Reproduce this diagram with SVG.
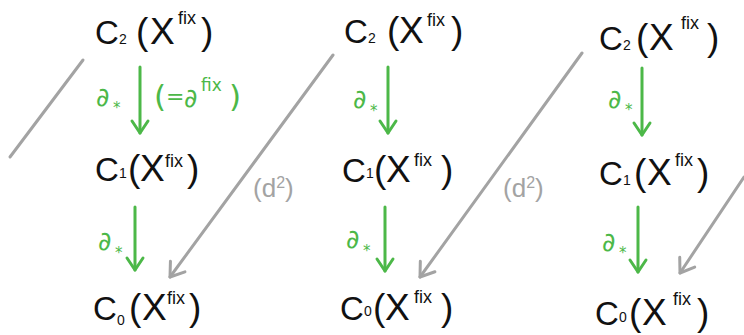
<svg xmlns="http://www.w3.org/2000/svg" width="744" height="335" viewBox="0 0 744 335">
<style>
.n{font-family:"Liberation Sans","DejaVu Sans",sans-serif;fill:#111;}
.b{font-size:37px;}
.c{font-size:33px;}
.s{font-size:14px;}
.f{font-size:18px;}
.g{font-family:"DejaVu Sans","Liberation Sans",sans-serif;fill:#4cb848;}
.gd{font-size:26px;}
.gs{font-size:15px;}
.gr{font-family:"Liberation Sans","DejaVu Sans",sans-serif;fill:#a3a3a3;font-size:26px;}
.ga{stroke:#4cb848;stroke-width:3;fill:none;stroke-linecap:round;}
.gy{stroke:#a3a3a3;stroke-width:3;fill:none;stroke-linecap:round;}
</style>
<defs>
<marker id="hg" markerUnits="userSpaceOnUse" markerWidth="20" markerHeight="20" refX="0" refY="0" orient="auto" overflow="visible">
<path d="M-12,-8 L0,0 L-12,8" fill="none" stroke="#4cb848" stroke-width="3" stroke-linecap="round" stroke-linejoin="round"/>
</marker>
<marker id="hy" markerUnits="userSpaceOnUse" markerWidth="20" markerHeight="20" refX="0" refY="0" orient="auto" overflow="visible">
<path d="M-13,-9 L0,0 L-13,9" fill="none" stroke="#a3a3a3" stroke-width="3" stroke-linecap="round" stroke-linejoin="round"/>
</marker>
</defs>
<g id="connectors">
<line class="ga" x1="140" y1="67" x2="140" y2="133" marker-end="url(#hg)"/>
<line class="ga" x1="135" y1="207" x2="135" y2="270" marker-end="url(#hg)"/>
<line class="ga" x1="388" y1="67" x2="388" y2="133" marker-end="url(#hg)"/>
<line class="ga" x1="385" y1="207" x2="385" y2="271" marker-end="url(#hg)"/>
<line class="ga" x1="642" y1="68" x2="642" y2="135" marker-end="url(#hg)"/>
<line class="ga" x1="638" y1="207" x2="638" y2="272" marker-end="url(#hg)"/>
<line class="gy" x1="83" y1="60" x2="10" y2="157"/>
<line class="gy" x1="333" y1="55" x2="170" y2="277" marker-end="url(#hy)"/>
<line class="gy" x1="582" y1="53" x2="420" y2="277" marker-end="url(#hy)"/>
<line class="gy" x1="744" y1="177" x2="680" y2="273" marker-end="url(#hy)"/>
<text class="g gd" x="96" y="106">∂<tspan class="gs" x="113" y="113">*</tspan></text>
<text class="g" x="154" y="107"><tspan style="font-size:31px">(</tspan><tspan x="166" y="104" style="font-size:22px">=</tspan><tspan x="184" y="107" style="font-size:26px">∂</tspan><tspan x="201" y="91" style="font-size:17px">fix</tspan><tspan x="229" y="107" style="font-size:31px">)</tspan></text>
<text class="g gd" x="98" y="250">∂<tspan class="gs" x="115" y="258">*</tspan></text>
<text class="g gd" x="353" y="108">∂<tspan class="gs" x="370" y="116">*</tspan></text>
<text class="g gd" x="346" y="248">∂<tspan class="gs" x="363" y="256">*</tspan></text>
<text class="g gd" x="608" y="108">∂<tspan class="gs" x="625" y="115">*</tspan></text>
<text class="g gd" x="602" y="251">∂<tspan class="gs" x="619" y="258">*</tspan></text>
<text class="gr" x="253" y="197">(d<tspan style="font-size:16px" dy="-9">2</tspan><tspan dy="9">)</tspan></text>
<text class="gr" x="503" y="197">(d<tspan style="font-size:16px" dy="-9">2</tspan><tspan dy="9">)</tspan></text>
</g>
<g id="c2-a"><text class="n b" x="95" y="44"><tspan class="c">C</tspan><tspan class="s" x="119">2</tspan><tspan x="136">(</tspan><tspan x="150">X</tspan><tspan class="f" x="178" y="24">fix</tspan><tspan x="201" y="44">)</tspan></text></g>
<g id="c1-a"><text class="n b" x="95" y="181"><tspan class="c">C</tspan><tspan class="s" x="119" y="178">1</tspan><tspan x="128" y="181">(</tspan><tspan x="140">X</tspan><tspan class="f" x="165" y="167">fix</tspan><tspan x="187" y="181">)</tspan></text></g>
<g id="c0-a"><text class="n b" x="93" y="320"><tspan class="c">C</tspan><tspan class="s" x="117" y="325">0</tspan><tspan x="129" y="320">(</tspan><tspan x="142">X</tspan><tspan class="f" x="167" y="304">fix</tspan><tspan x="189" y="320">)</tspan></text></g>
<g id="c2-b"><text class="n b" x="344" y="43"><tspan class="c">C</tspan><tspan class="s" x="368" y="43">2</tspan><tspan x="387">(</tspan><tspan x="399">X</tspan><tspan class="f" x="427" y="26">fix</tspan><tspan x="451" y="43">)</tspan></text></g>
<g id="c1-b"><text class="n b" x="342" y="182"><tspan class="c">C</tspan><tspan class="s" x="366" y="178">1</tspan><tspan x="374" y="182">(</tspan><tspan x="386">X</tspan><tspan class="f" x="414" y="166">fix</tspan><tspan x="441" y="182">)</tspan></text></g>
<g id="c0-b"><text class="n b" x="340" y="320"><tspan class="c">C</tspan><tspan class="s" x="364" y="316">0</tspan><tspan x="373" y="320">(</tspan><tspan x="385">X</tspan><tspan class="f" x="414" y="303">fix</tspan><tspan x="441" y="320">)</tspan></text></g>
<g id="c2-c"><text class="n b" x="599" y="50"><tspan class="c">C</tspan><tspan class="s" x="623" y="50">2</tspan><tspan x="636">(</tspan><tspan x="649">X</tspan><tspan class="f" x="681" y="29">fix</tspan><tspan x="707" y="50">)</tspan></text></g>
<g id="c1-c"><text class="n b" x="599" y="185"><tspan class="c">C</tspan><tspan class="s" x="623" y="185">1</tspan><tspan x="634">(</tspan><tspan x="647">X</tspan><tspan class="f" x="675" y="166">fix</tspan><tspan x="697" y="185">)</tspan></text></g>
<g id="c0-c"><text class="n b" x="595" y="325"><tspan class="c">C</tspan><tspan class="s" x="619" y="322">0</tspan><tspan x="629" y="325">(</tspan><tspan x="642">X</tspan><tspan class="f" x="673" y="305">fix</tspan><tspan x="697" y="325">)</tspan></text></g>
</svg>
